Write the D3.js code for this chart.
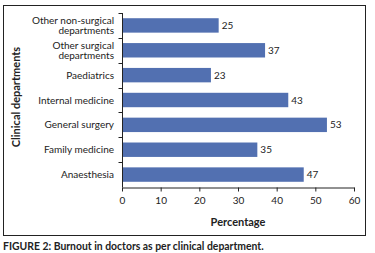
<!DOCTYPE html>
<html>
<head>
<meta charset="utf-8">
<script src="https://cdn.jsdelivr.net/npm/d3@7"></script>
<style>
  body { margin: 0; background: #fff; }
  svg { display: block; font-family: Lato, "Open Sans", sans-serif; }
</style>
</head>
<body>
<svg id="chart" width="375" height="253"></svg>
<script>
// data, top to bottom as drawn
const departments = [
  ["Other non-surgical", "departments"],
  ["Other surgical", "departments"],
  ["Paediatrics"],
  ["Internal medicine"],
  ["General surgery"],
  ["Family medicine"],
  ["Anaesthesia"]
];
const percentages = [25, 37, 23, 43, 53, 35, 47];
const xTicks = [0, 10, 20, 30, 40, 50, 60];

const svg = d3.select("#chart");
const margin = { left: 122, right: 21, top: 13, bottom: 66 };
const width = 375, height = 253;

// outer frame
svg.append("rect")
  .attr("x", 3.5).attr("y", 5.5)
  .attr("width", 362).attr("height", 230)
  .attr("fill", "none").attr("stroke", "#222").attr("stroke-width", 1);

const x = d3.scaleLinear().domain([0, 60]).range([margin.left, width - margin.right]);
const y = d3.scaleBand()
  .domain(departments.map((d, i) => i))
  .range([margin.top, height - margin.bottom])
  .paddingInner(0.42).paddingOuter(0.21);

// bars
svg.selectAll("rect.bar")
  .data(percentages)
  .join("rect")
  .attr("class", "bar")
  .attr("x", x(0))
  .attr("y", (d, i) => y(i))
  .attr("width", d => x(d) - x(0))
  .attr("height", y.bandwidth())
  .attr("fill", "#5270b1");

// value labels
svg.selectAll("text.val")
  .data(percentages)
  .join("text")
  .attr("class", "val")
  .attr("x", d => x(d) + 3)
  .attr("y", (d, i) => y(i) + y.bandwidth() / 2)
  .attr("dy", "0.35em")
  .attr("font-size", 10)
  .attr("fill", "#222")
  .text(d => d);

// x axis
const xAxis = svg.append("g")
  .attr("transform", `translate(0,${height - margin.bottom + 0.5})`)
  .call(d3.axisBottom(x).tickValues(xTicks).tickSize(4).tickSizeOuter(0));
xAxis.select(".domain").attr("stroke", "#222");
xAxis.selectAll(".tick line").attr("stroke", "#222");
xAxis.selectAll(".tick text")
  .attr("font-family", "Lato, sans-serif")
  .attr("font-size", 10).attr("fill", "#222").attr("dy", "0.95em");

// y axis: ticks between categories
const yAxisG = svg.append("g").attr("transform", `translate(${x(0) + 0.5},0)`);
yAxisG.append("line")
  .attr("y1", margin.top).attr("y2", height - margin.bottom + 0.5)
  .attr("stroke", "#222");
const step = y.step();
const bounds = d3.range(departments.length).map(i => margin.top + i * step);
yAxisG.selectAll("line.tk")
  .data(bounds)
  .join("line")
  .attr("class", "tk")
  .attr("x1", -4).attr("x2", 0)
  .attr("y1", d => Math.round(d) + 0.5).attr("y2", d => Math.round(d) + 0.5)
  .attr("stroke", "#222");

// category labels, one text per line
const lineH = 10.5;
const catLines = departments.flatMap((d, i) =>
  d.map((t, j) => ({ t, yy: y(i) + y.bandwidth() / 2 + (j - (d.length - 1) / 2) * lineH })));
svg.selectAll("text.cat")
  .data(catLines)
  .join("text")
  .attr("class", "cat")
  .attr("text-anchor", "end")
  .attr("font-size", 10)
  .attr("fill", "#222")
  .attr("x", x(0) - 8)
  .attr("y", d => d.yy)
  .attr("dy", "0.35em")
  .text(d => d.t);

// axis titles
svg.append("text")
  .attr("x", (x(0) + x(60)) / 2)
  .attr("y", 222)
  .attr("dy", "0.35em")
  .attr("text-anchor", "middle")
  .attr("font-size", 11).attr("font-weight", "bold").attr("fill", "#222")
  .text("Percentage");

svg.append("text")
  .attr("transform", `translate(16,97) rotate(-90)`)
  .attr("dy", "0.35em")
  .attr("text-anchor", "middle")
  .attr("font-size", 11).attr("font-weight", "bold").attr("fill", "#222")
  .text("Clinical departments");

// caption
svg.append("text")
  .attr("x", 3).attr("y", 246)
  .attr("dy", "0.35em")
  .attr("font-size", 10.4).attr("font-weight", "bold").attr("fill", "#222")
  .text("FIGURE 2: Burnout in doctors as per clinical department.");
</script>
</body>
</html>
